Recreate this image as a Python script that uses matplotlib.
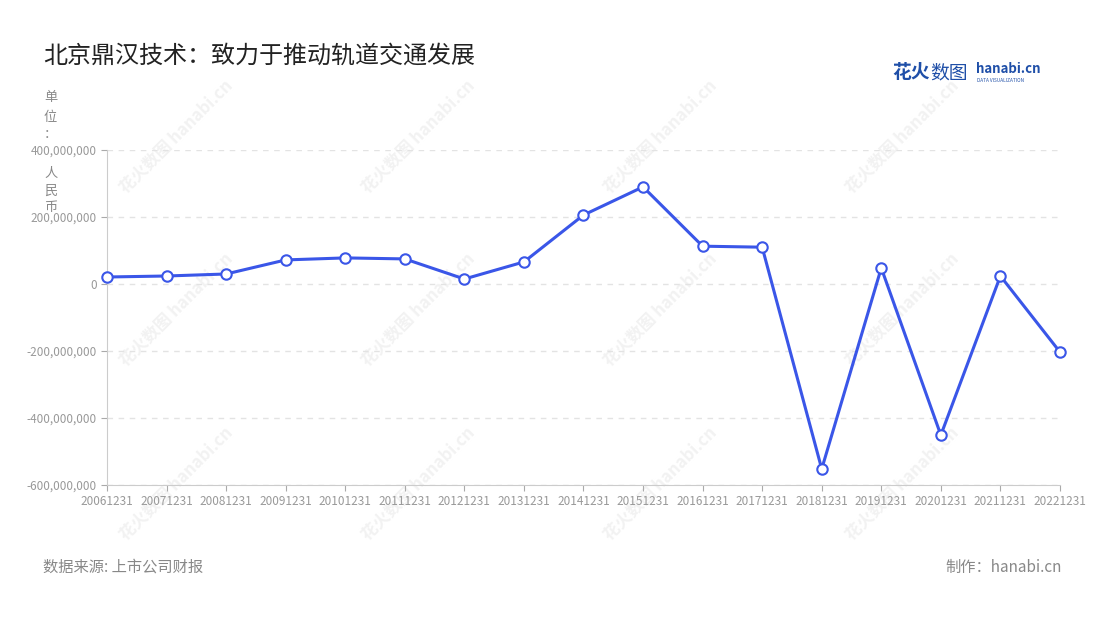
import matplotlib.pyplot as plt
from matplotlib.ticker import FuncFormatter

plt.rcParams['font.family'] = ['Noto Sans CJK SC', 'DejaVu Sans']

# 数据
years = ['20061231', '20071231', '20081231', '20091231', '20101231', '20111231',
         '20121231', '20131231', '20141231', '20151231', '20161231', '20171231',
         '20181231', '20191231', '20201231', '20211231', '20221231']
profit = [21e6, 24e6, 30e6, 72e6, 78e6, 75e6, 15e6, 66e6, 206e6, 290e6,
          113e6, 110e6, -552e6, 48e6, -451e6, 24e6, -203e6]
yticks = [-600e6, -400e6, -200e6, 0, 200e6, 400e6]

fig = plt.figure(figsize=(11, 6.2), dpi=100)
ax = fig.add_axes([0.0973, 0.2177, 0.8663, 0.5403])
ax.set_zorder(2)
ax.patch.set_alpha(0)

x = list(range(len(years)))
ax.plot(x, profit, color='#3a56e8', lw=2.2, marker='o', ms=7.5,
        mfc='white', mec='#3a56e8', mew=1.5, zorder=3, clip_on=False)

ax.set_xlim(0, len(years) - 1)
ax.set_ylim(-600e6, 400e6)
ax.set_xticks(x)
ax.set_xticklabels(years)
ax.set_yticks(yticks)
ax.yaxis.set_major_formatter(FuncFormatter(lambda v, p: f'{int(v):,}'))
ax.tick_params(colors='#aaaaaa', labelcolor='#999999', labelsize=8.5, length=4)
ax.grid(axis='y', color='#e3e3e3', ls=(0, (4, 4)), lw=1)
ax.set_axisbelow(True)
for s in ['top', 'right']:
    ax.spines[s].set_visible(False)
for s in ['left', 'bottom']:
    ax.spines[s].set_color('#cccccc')

# 水印
for wx in [0.16, 0.38, 0.6, 0.82]:
    for wy in [0.78, 0.5, 0.22]:
        fig.text(wx, wy, '花火数图 hanabi.cn', rotation=45, color='#f2f2f2',
                 fontsize=12, ha='center', va='center', fontweight='bold', zorder=0)

fig.text(0.039, 0.91, '北京鼎汉技术：致力于推动轨道交通发展', fontsize=17.3,
         color='#222222', va='center')

# 单位：人民币（竖排）
unit_chars = ['单', '位', '：', '人', '民', '币']
unit_y = [97, 117, 135, 173, 191, 208]
for ch, py in zip(unit_chars, unit_y):
    fig.text(0.046, 1 - py / 620, ch, fontsize=9.5, color='#888888',
             va='center', ha='center')

# logo
fig.text(0.811, 0.883, '花火', fontsize=13.5, color='#1f4fa8', fontweight='bold', va='center')
fig.text(0.846, 0.883, '数图', fontsize=13.5, color='#1f4fa8', va='center')
fig.text(0.887, 0.889, 'hanabi.cn', fontsize=9.5, color='#1f4fa8', fontweight='bold', va='center')
fig.text(0.888, 0.870, 'DATA VISUALIZATION', fontsize=3.4, color='#1f4fa8', va='center')

fig.text(0.039, 0.085, '数据来源: 上市公司财报', fontsize=11, color='#888888', va='center')
fig.text(0.965, 0.085, '制作：hanabi.cn', fontsize=11, color='#888888', va='center', ha='right')

fig.savefig('out.png', dpi=100, facecolor='white')
